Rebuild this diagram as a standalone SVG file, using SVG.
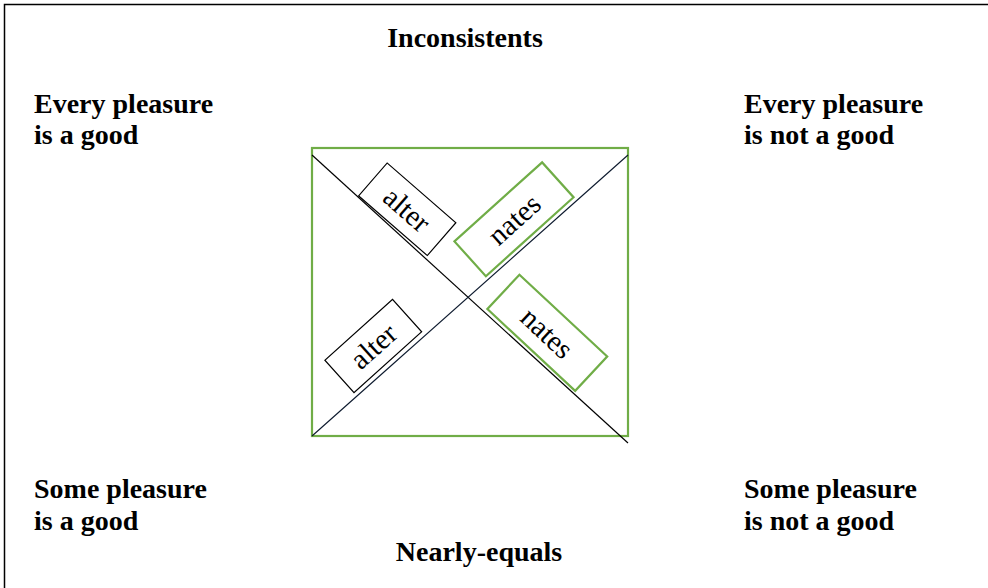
<svg xmlns="http://www.w3.org/2000/svg" width="988" height="588" viewBox="0 0 988 588">
<style>
.lbl{font-family:"Liberation Serif","Times New Roman",serif;font-weight:bold;font-size:28px;fill:#000}
.box{font-family:"Liberation Serif","Times New Roman",serif;font-size:29px;fill:#000}
.bk{fill:#fff;stroke:#000;stroke-width:1.2}
.gr{fill:#fff;stroke:#70AD47;stroke-width:2.2}
</style>
<rect width="988" height="588" fill="#fff"/>
<path d="M4.5,588 V4.5 H988" fill="none" stroke="#000" stroke-width="1.5"/>
<g id="labels">
<text class="lbl" x="465" y="47" text-anchor="middle">Inconsistents</text>
<text class="lbl" x="479" y="561" text-anchor="middle">Nearly-equals</text>
</g>
<g id="corner-tl"><text class="lbl" x="34" y="113">Every pleasure</text><text class="lbl" x="34" y="144">is a good</text></g>
<g id="corner-tr"><text class="lbl" x="744" y="113">Every pleasure</text><text class="lbl" x="744" y="144">is not a good</text></g>
<g id="corner-bl"><text class="lbl" x="34" y="498">Some pleasure</text><text class="lbl" x="34" y="530">is a good</text></g>
<g id="corner-br"><text class="lbl" x="744" y="498">Some pleasure</text><text class="lbl" x="744" y="530">is not a good</text></g>
<g id="square"><rect x="312" y="148" width="316" height="288" fill="none" stroke="#70AD47" stroke-width="2.2"/></g>
<g id="connectors">
<line x1="312" y1="155" x2="628" y2="443" stroke="#000" stroke-width="1.2"/>
<line x1="312" y1="436" x2="628" y2="155" stroke="#0d1a2e" stroke-width="1.2"/>
</g>
<g id="alter-top" transform="translate(407.2,209.3) rotate(41)">
<rect class="bk" x="-45.5" y="-21.8" width="91" height="43.5"/>
<text class="box" x="0" y="10" text-anchor="middle">alter</text>
</g>
<g id="nates-top" transform="translate(514,219.3) rotate(-42)">
<rect class="gr" x="-59" y="-23.5" width="118" height="47"/>
<text class="box" x="0" y="10" text-anchor="middle">nates</text>
</g>
<g id="alter-bottom" transform="translate(373.3,346) rotate(-42)">
<rect class="bk" x="-45.5" y="-21.8" width="91" height="43.5"/>
<text class="box" x="0" y="10" text-anchor="middle">alter</text>
</g>
<g id="nates-bottom" transform="translate(547.3,332.8) rotate(43)">
<rect class="gr" x="-60" y="-23.5" width="120" height="47"/>
<text class="box" x="0" y="10" text-anchor="middle">nates</text>
</g>
</svg>
